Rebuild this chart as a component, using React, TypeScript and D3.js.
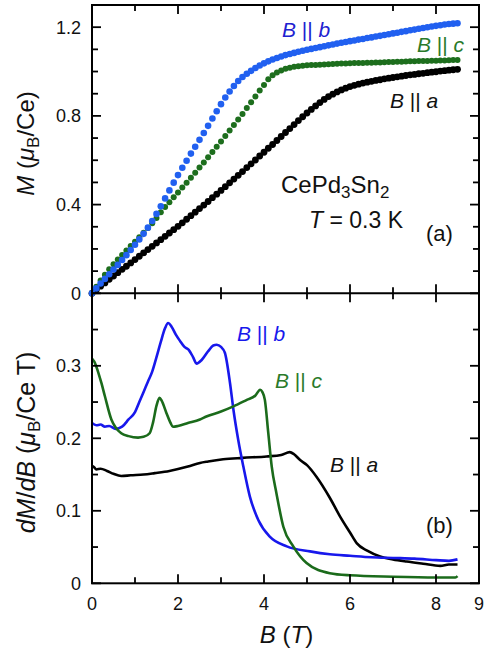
import React from 'react';
import * as d3 from 'd3';

// field grid (T) for the magnetization points of panel (a)
const fieldTop = [
  0.0, 0.1, 0.2, 0.3, 0.4, 0.5, 0.6, 0.7, 0.8, 0.9,
  1.0, 1.1, 1.2, 1.3, 1.4, 1.5, 1.6, 1.7, 1.8, 1.9,
  2.0, 2.1, 2.2, 2.3, 2.4, 2.5, 2.6, 2.7, 2.8, 2.9,
  3.0, 3.1, 3.2, 3.3, 3.4, 3.5, 3.6, 3.7, 3.8, 3.9,
  4.0, 4.1, 4.2, 4.3, 4.4, 4.5, 4.6, 4.7, 4.8, 4.9,
  5.0, 5.1, 5.2, 5.3, 5.4, 5.5, 5.6, 5.7, 5.8, 5.9,
  6.0, 6.1, 6.2, 6.3, 6.4, 6.5, 6.6, 6.7, 6.8, 6.9,
  7.0, 7.1, 7.2, 7.3, 7.4, 7.5, 7.6, 7.7, 7.8, 7.9,
  8.0, 8.1, 8.2, 8.3, 8.4, 8.5];

// M (muB/Ce)
const mB = [
  0.000, 0.022, 0.044, 0.065, 0.086, 0.107, 0.128, 0.150, 0.172, 0.195,
  0.219, 0.243, 0.268, 0.296, 0.326, 0.358, 0.392, 0.428, 0.464, 0.499,
  0.533, 0.566, 0.598, 0.630, 0.661, 0.692, 0.723, 0.755, 0.788, 0.821,
  0.853, 0.883, 0.910, 0.935, 0.957, 0.975, 0.990, 1.003, 1.016, 1.027,
  1.037, 1.046, 1.054, 1.061, 1.068, 1.074, 1.079, 1.084, 1.089, 1.094,
  1.098, 1.102, 1.106, 1.110, 1.114, 1.118, 1.122, 1.126, 1.130, 1.133,
  1.137, 1.140, 1.144, 1.147, 1.151, 1.154, 1.158, 1.161, 1.165, 1.168,
  1.172, 1.175, 1.179, 1.182, 1.186, 1.189, 1.193, 1.196, 1.200, 1.203,
  1.206, 1.209, 1.212, 1.214, 1.216, 1.218];
const mC = [
  0.000, 0.030, 0.058, 0.084, 0.108, 0.131, 0.152, 0.173, 0.193, 0.213,
  0.233, 0.253, 0.273, 0.294, 0.316, 0.340, 0.365, 0.389, 0.411, 0.433,
  0.455, 0.477, 0.499, 0.521, 0.544, 0.567, 0.590, 0.613, 0.637, 0.661,
  0.685, 0.709, 0.734, 0.759, 0.784, 0.809, 0.835, 0.861, 0.887, 0.914,
  0.939, 0.965, 0.983, 0.996, 1.005, 1.012, 1.017, 1.021, 1.024, 1.026,
  1.028, 1.029, 1.030, 1.031, 1.032, 1.033, 1.034, 1.035, 1.036, 1.036,
  1.037, 1.038, 1.038, 1.039, 1.040, 1.040, 1.041, 1.041, 1.042, 1.043,
  1.043, 1.044, 1.044, 1.045, 1.046, 1.046, 1.047, 1.047, 1.048, 1.049,
  1.049, 1.050, 1.050, 1.051, 1.052, 1.052];
const mA = [
  0.000, 0.016, 0.032, 0.047, 0.063, 0.078, 0.093, 0.108, 0.122, 0.137,
  0.152, 0.167, 0.182, 0.197, 0.212, 0.227, 0.242, 0.257, 0.272, 0.287,
  0.302, 0.318, 0.334, 0.350, 0.366, 0.382, 0.398, 0.414, 0.431, 0.447,
  0.464, 0.481, 0.498, 0.515, 0.532, 0.549, 0.567, 0.584, 0.601, 0.619,
  0.636, 0.654, 0.671, 0.689, 0.707, 0.725, 0.743, 0.761, 0.779, 0.796,
  0.813, 0.829, 0.845, 0.860, 0.874, 0.887, 0.898, 0.908, 0.917, 0.925,
  0.932, 0.938, 0.943, 0.948, 0.952, 0.956, 0.960, 0.963, 0.967, 0.970,
  0.973, 0.976, 0.979, 0.982, 0.985, 0.987, 0.990, 0.992, 0.995, 0.997,
  0.999, 1.002, 1.004, 1.006, 1.008, 1.010];

// dM/dB (muB/Ce T), panel (b)
const fieldDb = [0, 0.1, 0.2, 0.3, 0.4, 0.55, 0.7, 0.85, 1.0, 1.1, 1.2, 1.3, 1.4, 1.5, 1.6, 1.7, 1.77,
  1.85, 1.95, 2.05, 2.15, 2.25, 2.35, 2.43, 2.55, 2.7, 2.82, 2.9, 3.0, 3.09, 3.21, 3.29, 3.4, 3.52,
  3.67, 3.87, 4.14, 4.53, 5.07, 5.53, 6.0, 6.5, 7.0, 7.5, 8.0, 8.3, 8.5];
const dB = [0.221, 0.218, 0.219, 0.216, 0.217, 0.213, 0.216, 0.226, 0.236, 0.25, 0.264, 0.278, 0.292,
  0.312, 0.333, 0.352, 0.359, 0.354, 0.343, 0.334, 0.326, 0.322, 0.312, 0.303, 0.308, 0.32, 0.328,
  0.329, 0.326, 0.318, 0.276, 0.239, 0.198, 0.161, 0.12, 0.087, 0.064, 0.051, 0.044, 0.040, 0.038,
  0.036, 0.035, 0.034, 0.032, 0.031, 0.033];
const fieldDc = [0, 0.05, 0.15, 0.22, 0.3, 0.45, 0.55, 0.68, 0.85, 1.07, 1.2, 1.34, 1.42, 1.5, 1.57,
  1.62, 1.73, 1.82, 1.88, 2.0, 2.23, 2.51, 2.66, 3.0, 3.29, 3.6, 3.8, 3.91, 3.96, 4.02, 4.1, 4.18,
  4.29, 4.45, 4.68, 4.99, 5.53, 6.0, 7.0, 8.0, 8.45, 8.5];
const dC = [0.31, 0.306, 0.29, 0.276, 0.258, 0.226, 0.215, 0.207, 0.203, 0.201, 0.202, 0.207, 0.222,
  0.245, 0.256, 0.252, 0.235, 0.222, 0.216, 0.217, 0.221, 0.226, 0.23, 0.237, 0.244, 0.253, 0.259,
  0.267, 0.264, 0.253, 0.207, 0.161, 0.124, 0.078, 0.051, 0.028, 0.014, 0.011, 0.009, 0.008, 0.008,
  0.01];
const fieldDa = [0, 0.05, 0.1, 0.2, 0.35, 0.5, 0.68, 0.9, 1.2, 1.46, 1.8, 2.23, 2.51, 2.7, 3.05, 3.5,
  4.06, 4.4, 4.6, 4.7, 4.84, 5.0, 5.22, 5.53, 5.77, 6.0, 6.16, 6.4, 6.7, 7.0, 7.32, 7.7, 8.1, 8.3, 8.5];
const dA = [0.162, 0.16, 0.157, 0.158, 0.155, 0.151, 0.148, 0.149, 0.15, 0.152, 0.155, 0.161, 0.166,
  0.168, 0.171, 0.173, 0.175, 0.177, 0.181, 0.178, 0.17, 0.163, 0.147, 0.118, 0.092, 0.07, 0.055,
  0.045, 0.037, 0.033, 0.03, 0.027, 0.024, 0.026, 0.026];

const xMajor = [0, 2, 4, 6, 8];
const xMinor = [1, 3, 5, 7];
const xLabels = ['0', '2', '4', '6', '8', '9'];
const xLabelVals = [0, 2, 4, 6, 8, 9];
const mMajor = [0, 0.4, 0.8, 1.2];
const mMinor = [0.1, 0.2, 0.3, 0.5, 0.6, 0.7, 0.9, 1.0, 1.1];
const mLabels = ['0', '0.4', '0.8', '1.2'];
const dMajor = [0, 0.1, 0.2, 0.3];
const dMinor = [0.05, 0.15, 0.25, 0.35];
const dLabels = ['0', '0.1', '0.2', '0.3'];

const blueDot = '#2160f0', greenDot = '#1d6e1d', blueLine = '#1818ec', greenLine = '#1b6b1b';
const font = 'Liberation Sans, Arial, Helvetica, sans-serif';

const left = 92, right = 479, top = 5, mid = 293.3, bottom = 583.3;
const majorLen = 9, minorLen = 6;

export default function App() {
  const x = d3.scaleLinear().domain([0, 9]).range([left, right]);
  const yTop = d3.scaleLinear().domain([0, 1.3]).range([mid, top]);
  const yBot = d3.scaleLinear().domain([0, 0.4]).range([bottom, mid]);

  const line = (xs: number[], ys: number[]) =>
    d3.line<number>()
      .x((d, i) => x(xs[i]))
      .y(d => yBot(d))
      .curve(d3.curveMonotoneX)(ys) || '';

  const yTicks = (sc: d3.ScaleLinear<number, number>, major: number[], minor: number[]) => (
    <g stroke="#000" strokeWidth={1.8}>
      {major.map(v => <line key={'l' + v} x1={left} x2={left + majorLen} y1={sc(v)} y2={sc(v)} />)}
      {minor.map(v => <line key={'m' + v} x1={left} x2={left + minorLen} y1={sc(v)} y2={sc(v)} />)}
      {major.map(v => <line key={'r' + v} x1={right} x2={right - majorLen} y1={sc(v)} y2={sc(v)} />)}
      {minor.map(v => <line key={'n' + v} x1={right} x2={right - minorLen} y1={sc(v)} y2={sc(v)} />)}
    </g>
  );

  // x ticks at a horizontal edge, dir = +1 points down, -1 points up
  const xTicks = (yy: number, dir: number) => (
    <g stroke="#000" strokeWidth={1.8}>
      {xMajor.map(v => <line key={'a' + v} x1={x(v)} x2={x(v)} y1={yy} y2={yy + dir * majorLen} />)}
      {xMinor.map(v => <line key={'b' + v} x1={x(v)} x2={x(v)} y1={yy} y2={yy + dir * minorLen} />)}
    </g>
  );

  const dots = (ms: number[], color: string, r: number) =>
    ms.map((m, i) => <circle key={i} cx={x(fieldTop[i])} cy={yTop(m)} r={r} fill={color} />);

  return (
    <svg width={489} height={657} style={{ position: 'absolute', left: 0, top: 0, background: '#fff' }}
      fontFamily={font}>
      {/* panel (a) */}
      <g>{dots(mA, '#000', 3.4)}</g>
      <g>{dots(mC, greenDot, 3)}</g>
      <g>{dots(mB, blueDot, 3.3)}</g>

      {/* panel (b) */}
      <path d={line(fieldDa, dA)} fill="none" stroke="#000" strokeWidth={2.6} />
      <path d={line(fieldDb, dB)} fill="none" stroke={blueLine} strokeWidth={2.6} />
      <path d={line(fieldDc, dC)} fill="none" stroke={greenLine} strokeWidth={2.6} />

      {/* frames and ticks */}
      <rect x={left} y={top} width={right - left} height={bottom - top} fill="none" stroke="#000" strokeWidth={2} />
      <line x1={left} x2={right} y1={mid} y2={mid} stroke="#000" strokeWidth={2} />
      {yTicks(yTop, mMajor, mMinor)}
      {yTicks(yBot, dMajor, dMinor)}
      {xTicks(top, 1)}
      {xTicks(mid, -1)}
      {xTicks(mid, 1)}
      {xTicks(bottom, -1)}

      {/* tick labels */}
      <g fontSize={18} fill="#111" textAnchor="end">
        {mMajor.map((v, i) => <text key={v} x={81} y={yTop(v)} dy="0.36em">{mLabels[i]}</text>)}
        {dMajor.map((v, i) => <text key={v} x={81} y={yBot(v)} dy="0.36em">{dLabels[i]}</text>)}
      </g>
      <g fontSize={18} fill="#111" textAnchor="middle">
        {xLabelVals.map((v, i) => <text key={v} x={x(v)} y={610}>{xLabels[i]}</text>)}
      </g>

      {/* axis titles */}
      <text transform="translate(34,143.5) rotate(-90)" textAnchor="middle" fontSize={24} fill="#111">
        <tspan fontStyle="italic">M</tspan> (<tspan fontStyle="italic">μ</tspan>
        <tspan fontSize={17} dy={5}>B</tspan><tspan dy={-5}>/Ce)</tspan>
      </text>
      <text transform="translate(35,442.5) rotate(-90)" textAnchor="middle" fontSize={25} fill="#111">
        <tspan fontStyle="italic">dM</tspan>/<tspan fontStyle="italic">dB</tspan> (<tspan fontStyle="italic">μ</tspan>
        <tspan fontSize={17} dy={5}>B</tspan><tspan dy={-5}>/Ce T)</tspan>
      </text>
      <text x={286.5} y={643} textAnchor="middle" fontSize={24} fill="#111">
        <tspan fontStyle="italic">B</tspan> (<tspan fontStyle="italic">T</tspan>)
      </text>

      {/* annotations, panel (a) */}
      <g fontSize={21}>
        <text x={282} y={37} fill="#2121d0"><tspan fontStyle="italic">B</tspan> || <tspan fontStyle="italic">b</tspan></text>
        <text x={417} y={52} fill="#2a7a2a"><tspan fontStyle="italic">B</tspan> || <tspan fontStyle="italic">c</tspan></text>
        <text x={390} y={108} fill="#111"><tspan fontStyle="italic">B</tspan> || <tspan fontStyle="italic">a</tspan></text>
      </g>
      <text x={281} y={193} fontSize={24} fill="#111">
        CePd<tspan fontSize={17} dy={5}>3</tspan><tspan dy={-5}>Sn</tspan><tspan fontSize={17} dy={5}>2</tspan>
      </text>
      <text x={403} y={228} fontSize={23} fill="#111" textAnchor="end">
        <tspan fontStyle="italic">T</tspan> = 0.3 K
      </text>
      <text x={426} y={241} fontSize={22} fill="#111">(a)</text>

      {/* annotations, panel (b) */}
      <g fontSize={21}>
        <text x={237} y={341} fill={blueLine}><tspan fontStyle="italic">B</tspan> || <tspan fontStyle="italic">b</tspan></text>
        <text x={275} y={388} fill="#2a7a2a"><tspan fontStyle="italic">B</tspan> || <tspan fontStyle="italic">c</tspan></text>
        <text x={330} y={472} fill="#111"><tspan fontStyle="italic">B</tspan> || <tspan fontStyle="italic">a</tspan></text>
      </g>
      <text x={426} y={533} fontSize={22} fill="#111">(b)</text>
    </svg>
  );
}
